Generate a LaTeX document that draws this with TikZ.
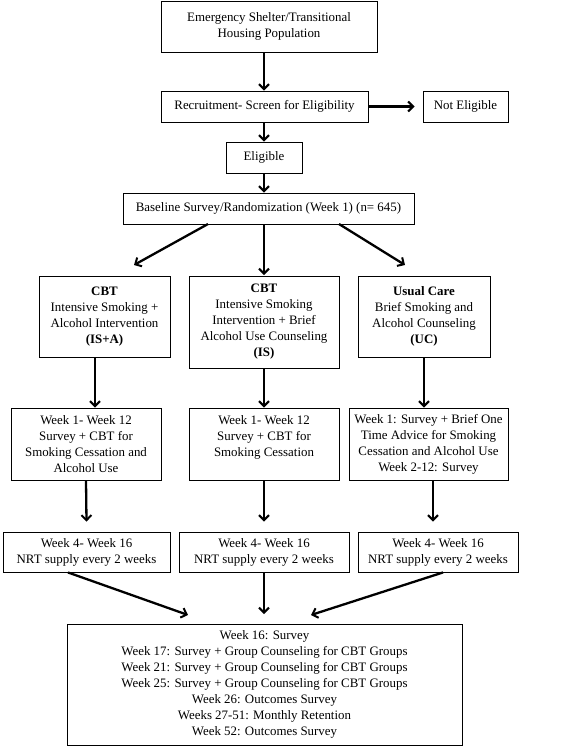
\documentclass[tikz,border=0pt]{standalone}
\usepackage{fontspec}
\setmainfont{Liberation Serif}
\usetikzlibrary{arrows.meta}
\begin{document}
\begin{tikzpicture}[x=1pt,y=-1pt,
  box/.style={draw,line width=0.9pt,align=center,inner sep=2pt,
    font=\fontsize{12.9}{16}\selectfont},
  arr/.style={line width=2.3pt,-{Straight Barb[length=5pt,width=10pt,line width=2pt]}}]
\useasboundingbox (0,0) rectangle (567,748);
% boxes: center x, center y, width, height
\node[box,minimum width=216pt,minimum height=51pt] (pop) at (269,26.5) {Emergency Shelter/Transitional\\Housing Population};
\node[box,minimum width=207pt,minimum height=31pt] (rec) at (264.5,106.5) {Recruitment- Screen for Eligibility};
\node[box,minimum width=85pt,minimum height=31pt] (ne) at (465.5,106.5) {Not Eligible};
\node[box,minimum width=76pt,minimum height=31pt] (el) at (264,157.5) {Eligible};
\node[box,minimum width=291pt,minimum height=31pt] (base) at (268.5,208.5) {Baseline Survey/Randomization (Week 1) (n= 645)};
\node[box,minimum width=131pt,minimum height=81pt] (g1) at (104.5,316.5) {\textbf{CBT}\\Intensive Smoking +\\Alcohol Intervention\\\textbf{(IS+A)}};
\node[box,minimum width=150pt,minimum height=92pt] (g2) at (264,322) {\textbf{CBT}\\Intensive Smoking\\Intervention + Brief\\Alcohol Use Counseling\\\textbf{(IS)}};
\node[box,minimum width=132pt,minimum height=81pt] (g3) at (424,316.5) {\textbf{Usual Care}\\Brief Smoking and\\Alcohol Counseling\\\textbf{(UC)}};
\node[box,minimum width=150pt,minimum height=72pt] (w1) at (86,444) {Week 1- Week 12\\Survey + CBT for\\Smoking Cessation and\\Alcohol Use};
\node[box,minimum width=150pt,minimum height=72pt,text depth=16pt] (w2) at (264,444) {Week 1- Week 12\\Survey + CBT for\\Smoking Cessation};
\node[box,minimum width=159pt,minimum height=72pt] (w3) at (428.5,444) {Week 1: Survey + Brief One\\Time Advice for Smoking\\Cessation and Alcohol Use\\Week 2-12: Survey};
\node[box,minimum width=167pt,minimum height=40pt] (n1) at (86.5,552) {Week 4- Week 16\\NRT supply every 2 weeks};
\node[box,minimum width=170pt,minimum height=40pt] (n2) at (264,552) {Week 4- Week 16\\NRT supply every 2 weeks};
\node[box,minimum width=160pt,minimum height=40pt] (n3) at (438,552) {Week 4- Week 16\\NRT supply every 2 weeks};
\node[box,minimum width=395pt,minimum height=121pt] (fin) at (264.5,684.5) {Week 16: Survey\\Week 17: Survey + Group Counseling for CBT Groups\\Week 21: Survey + Group Counseling for CBT Groups\\Week 25: Survey + Group Counseling for CBT Groups\\Week 26: Outcomes Survey\\Weeks 27-51: Monthly Retention\\Week 52: Outcomes Survey};
% connectors
\draw[arr] (pop.south -| el) -- (rec.north -| el);
\draw[arr] (rec.east) -- ([xshift=-8pt]ne.west);
\draw[arr] (rec.south -| el) -- (el.north);
\draw[arr] (el.south) -- (base.north -| el);
\coordinate (b1) at (208,224);
\coordinate (b3) at (339,224);
\coordinate (t1) at (134,265);
\coordinate (t3) at (405,265);
\coordinate (t2) at (264,275);
\draw[arr] (b1) -- (t1);
\draw[arr] (base.south -| el) -- (t2);
\draw[arr] (b3) -- (t3);
\draw[arr] (g1.south -| 95,0) -- (w1.north -| 95,0);
\draw[arr] (g2.south) -- (w2.north);
\draw[arr] (g3.south -| 424,0) -- (w3.north -| 424,0);
\draw[arr] (w1.south) -- ([yshift=10pt]n1.north);
\draw[arr] (w2.south) -- ([yshift=10pt]n2.north);
\draw[arr] (w3.south -| 433,0) -- ([yshift=10pt]n3.north -| 433,0);
\coordinate (f1) at (188,615);
\coordinate (f2) at (264,614);
\coordinate (f3) at (311,615);
\draw[arr] (n1.south -| 68,0) -- (f1);
\draw[arr] (n2.south) -- (f2);
\draw[arr] (n3.south -| 443,0) -- (f3);
\end{tikzpicture}
\end{document}
